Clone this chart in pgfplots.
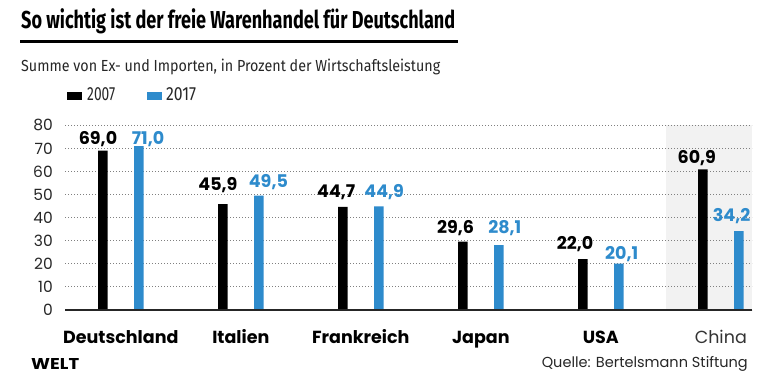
\documentclass[border=0pt]{standalone}
\usepackage{pgfplots}
\pgfplotsset{compat=1.18}
\usepackage{fontspec}
\usepackage{graphicx}
\setmainfont{Poppins}
\newfontfamily\condfont{Fira Sans}
\definecolor{weltblue}{HTML}{2E8BCC}
\definecolor{chinabg}{HTML}{F2F2F2}
\begin{document}
\begin{tikzpicture}
% title
\node[anchor=base west, inner sep=0] at (21pt,344.5pt) {\resizebox{434pt}{\height}{\condfont\fontsize{24.5}{24.5}\selectfont\bfseries So wichtig ist der freie Warenhandel für Deutschland}};
\fill[black] (20pt,330pt) rectangle (458pt,332.5pt);
% subtitle
\node[anchor=base west, inner sep=0, text=black!85] at (21pt,301pt) {\resizebox{419pt}{\height}{\condfont\fontsize{16}{16}\selectfont Summe von Ex- und Importen, in Prozent der Wirtschaftsleistung}};
% legend
\fill[black] (67pt,273pt) rectangle (82pt,281pt);
\node[anchor=base west, inner sep=0, text=black!85] at (87pt,272.5pt) {\resizebox{28pt}{\height}{\condfont\fontsize{19}{19}\selectfont 2007}};
\fill[weltblue] (147pt,273pt) rectangle (162pt,281pt);
\node[anchor=base west, inner sep=0, text=black!85] at (166pt,272.5pt) {\resizebox{30pt}{\height}{\condfont\fontsize{19}{19}\selectfont 2017}};
% footer
\node[anchor=base west, inner sep=0] at (31pt,4pt) {\resizebox{48pt}{11pt}{\bfseries WELT}};
\node[anchor=base east, inner sep=0, text=black!85] at (748pt,6pt) {\resizebox{206pt}{\height}{\fontsize{14.5}{14.5}\selectfont Quelle: Bertelsmann Stiftung}};

\begin{axis}[
  at={(65pt,63pt)}, anchor=south west, scale only axis,
  width=687pt, height=184.7pt,
  xmin=-0.465, xmax=5.26, ymin=0, ymax=80,
  ytick={0,10,...,80}, xtick={0,...,5},
  xticklabels={Deutschland,Italien,Frankreich,Japan,USA,{\mdseries\color{black!80}China}},
  axis line style={draw=none}, tick style={draw=none},
  ymajorgrids,
  major grid style={line width=0.9pt, dash pattern=on 0.9pt off 2.1pt, black!50},
  /pgf/number format/assume math mode=true,
  yticklabel style={font=\fontsize{15.5}{15.5}\selectfont, text=black!85, anchor=east, inner sep=0pt, xshift=-12pt},
  xticklabel style={font=\fontsize{17.5}{17.5}\selectfont\bfseries, anchor=base, inner sep=0pt, yshift=-33pt},
  set layers, clip=false,
]
\begin{pgfonlayer}{axis background}
\fill[chinabg] (axis cs:4.54,0) rectangle (axis cs:5.26,80);
\end{pgfonlayer}
\addplot[ybar, bar width=9.5pt, bar shift=-18pt, fill=black, draw=none]
  coordinates {(0,69.0) (1,45.9) (2,44.7) (3,29.6) (4,22.0) (5,60.9)};
\addplot[ybar, bar width=9.5pt, bar shift=18pt, fill=weltblue, draw=none]
  coordinates {(0,71.0) (1,49.5) (2,44.9) (3,28.1) (4,20.1) (5,34.2)};
% value labels
\addplot[draw=none, mark=none, point meta=explicit,
  nodes near coords={\pgfmathprintnumber[fixed,fixed zerofill,precision=1,use comma]{\pgfplotspointmeta}},
  every node near coord/.style={anchor=base, inner sep=0pt, font=\fontsize{17.5}{17.5}\selectfont\bfseries, text=black}]
  coordinates {(-0.19,71.7) [69.0] (0.81,51.7) [45.9] (1.795,48.6) [44.7] (2.79,33.2) [29.6] (3.785,26.0) [22.0] (4.8,63.5) [60.9]};
\addplot[draw=none, mark=none, point meta=explicit,
  nodes near coords={\pgfmathprintnumber[fixed,fixed zerofill,precision=1,use comma]{\pgfplotspointmeta}},
  every node near coord/.style={anchor=base, inner sep=0pt, font=\fontsize{17.5}{17.5}\selectfont\bfseries, text=weltblue}]
  coordinates {(0.227,71.7) [71.0] (1.23,53.1) [49.5] (2.195,48.6) [44.9] (3.2,33.2) [28.1] (4.174,21.7) [20.1] (5.09,38.2) [34.2]};
\draw[line width=1.2pt, black!85] (rel axis cs:0,0) -- (rel axis cs:1,0);
\end{axis}
\path (0pt,0pt) rectangle (780pt,373pt);
\end{tikzpicture}
\end{document}
